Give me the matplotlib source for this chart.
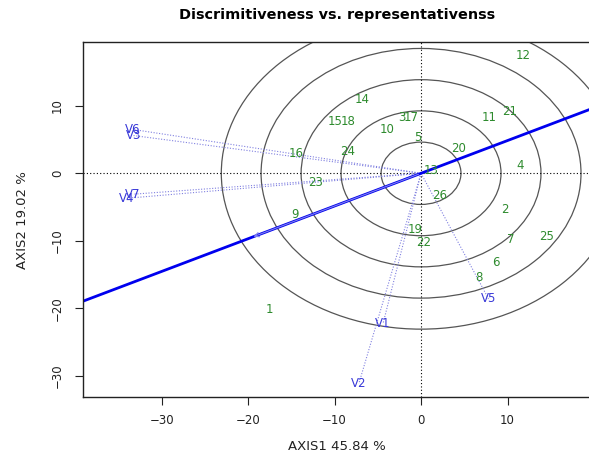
import numpy as np
import matplotlib
matplotlib.use("Agg")
import matplotlib.pyplot as plt
from matplotlib.patches import Circle

# --------------------------------------------------------------
# Data
# --------------------------------------------------------------
gen_labels = [str(i) for i in range(1, 27)]
gen_x = [-17.5, 9.7, -2.2, 11.5, -0.4, 8.6, 10.4, 6.7, -14.6, -3.9, 7.9, 11.8, 1.2,
         -6.85, -9.9, -14.45, -1.1, -8.4, -0.7, 4.3, 10.2, 0.3, -12.2, -8.5, 14.5, 2.2]
gen_y = [-20.2, -5.4, 8.2, 1.1, 5.3, -13.2, -9.8, -15.4, -6.1, 6.5, 8.2, 17.5, 0.4,
         10.9, 7.6, 3.0, 8.2, 7.7, -8.3, 3.6, 9.2, -10.3, -1.4, 3.2, -9.3, -3.3]

env_labels = ["V1", "V2", "V3", "V4", "V5", "V6", "V7"]
env_x = [-4.4, -7.2, -33.3, -34.0, 7.8, -33.35, -33.3]
env_y = [-22.3, -31.2, 5.6, -3.7, -18.6, 6.5, -3.1]

circle_radii = [4.62, 9.25, 13.87, 18.5, 23.1]

x_ticks = [-30, -20, -10, 0, 10]
y_ticks = [-30, -20, -10, 0, 10]

# --------------------------------------------------------------
# Plot
# --------------------------------------------------------------
plt.rcParams["font.family"] = "DejaVu Sans"

fig = plt.figure(figsize=(5.89, 4.58), dpi=100)
ax = fig.add_axes([83.3 / 589, 1 - 397.3 / 458, (590 - 83.3) / 589, (397.3 - 41.7) / 458])
ax.set_xlim(-39.06, 19.54)
ax.set_ylim(-33.2, 19.5)

# concentric circles round the origin
for r in circle_radii:
    ax.add_patch(Circle((0, 0), r, fill=False, edgecolor="#555555", lw=0.9))

ax.axhline(0, color="black", ls=(0, (1, 2)), lw=0.8)
ax.axvline(0, color="black", ls=(0, (1, 2)), lw=0.8)

# environment vectors
for ex, ey in zip(env_x, env_y):
    ax.plot([0, ex], [0, ey], color="#8080E0", ls=(0, (1, 1.5)), lw=0.8)

# average environment axis
mx = np.mean(env_x)
my = np.mean(env_y)
slope = my / mx
xs = np.array([-40, 20])
ax.plot(xs, slope * xs, color="#0000EE", lw=2)
ax.annotate("", xy=(mx, my), xytext=(0, 0),
            arrowprops=dict(arrowstyle="->", color="#8080F0", lw=0.8, mutation_scale=8))

for lab, gx, gy in zip(gen_labels, gen_x, gen_y):
    ax.text(gx, gy, lab, color="#2E8B2E", fontsize=8.5, ha="center", va="center")

for lab, ex, ey in zip(env_labels, env_x, env_y):
    ax.text(ex, ey, lab, color="#3838D8", fontsize=8.5, ha="center", va="center")

ax.set_xticks(x_ticks)
ax.set_yticks(y_ticks)
ax.tick_params(axis="both", direction="out", length=5.5, width=0.8, labelsize=8.5, colors="#222222")
ax.tick_params(axis="x", pad=6.5)
ax.tick_params(axis="y", pad=8.5)
for t in ax.get_yticklabels():
    t.set_rotation(90)
    t.set_va("center")

for s in ax.spines.values():
    s.set_linewidth(1.0)
    s.set_color("#222222")

fig.text(337 / 589, 1 - 15 / 458, "Discrimitiveness vs. representativenss",
         ha="center", va="center", fontsize=10.4, fontweight="bold")
fig.text(337 / 589, 1 - 447 / 458, "AXIS1 45.84 %", ha="center", va="center", fontsize=9.5,
         color="#222222")
fig.text(23 / 589, 1 - 220 / 458, "AXIS2 19.02 %", ha="center", va="center", fontsize=9.5,
         rotation=90, color="#222222")

fig.savefig("out.png", dpi=100)
